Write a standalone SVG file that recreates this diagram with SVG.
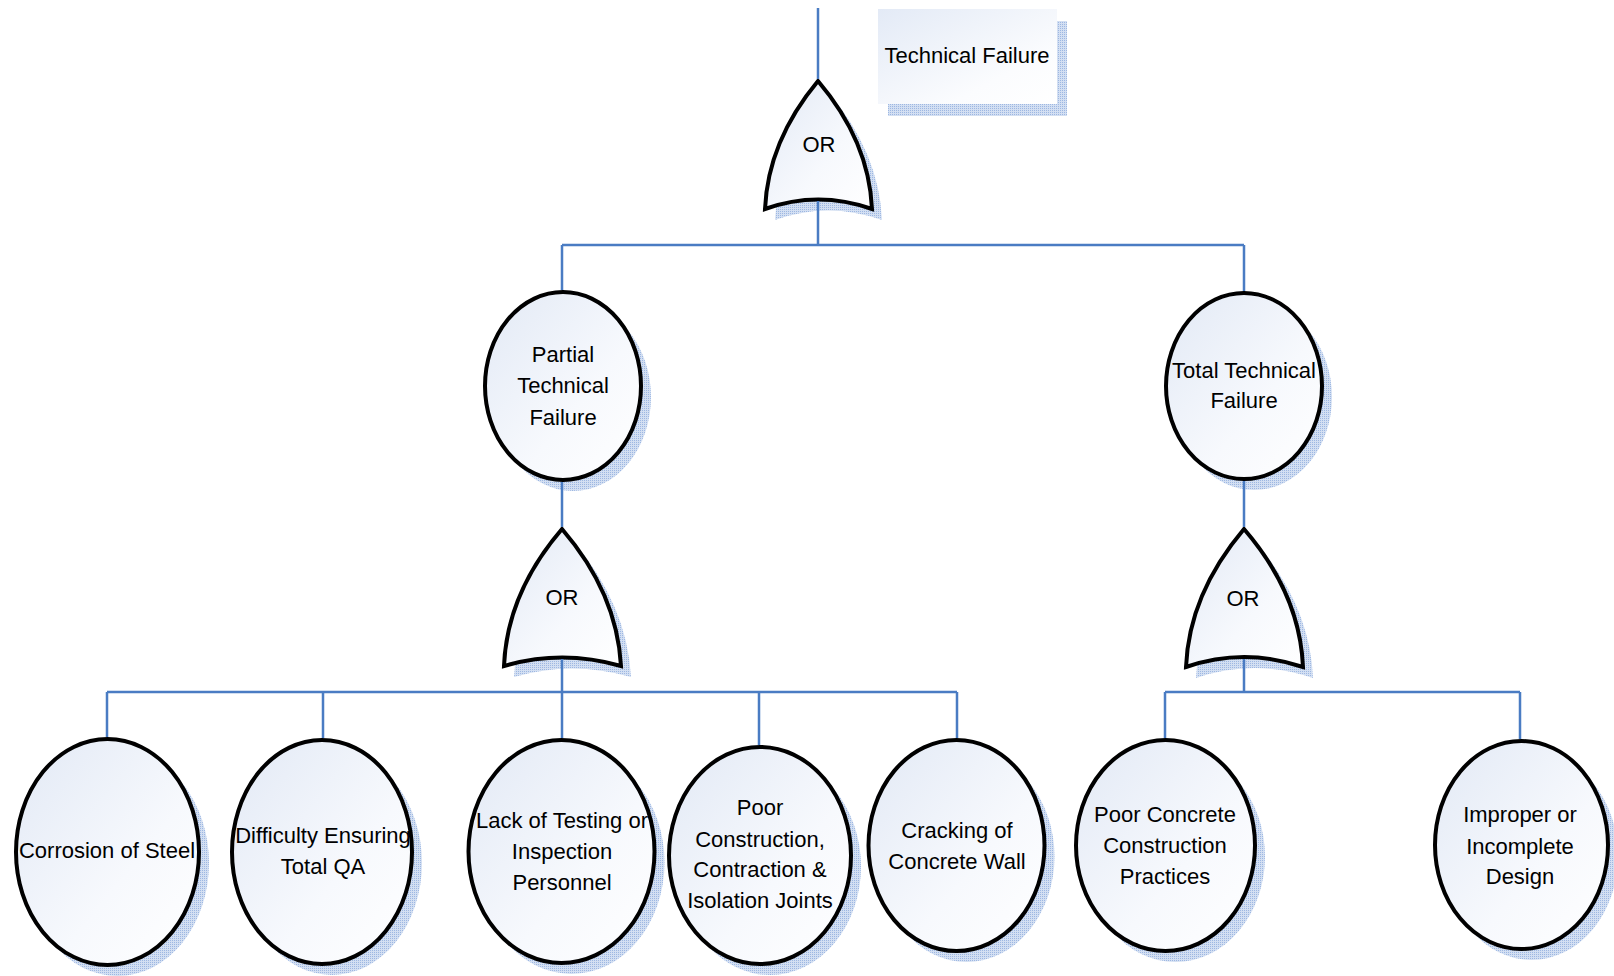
<svg xmlns="http://www.w3.org/2000/svg" width="1614" height="976" viewBox="0 0 1614 976">
  <defs>
    <linearGradient id="fillGrad" x1="0" y1="0" x2="1" y2="1">
      <stop offset="0" stop-color="#e2e9f5"/>
      <stop offset="0.6" stop-color="#f7f9fd"/>
      <stop offset="1" stop-color="#ffffff"/>
    </linearGradient>
    <linearGradient id="boxGrad" x1="0" y1="0" x2="1" y2="1">
      <stop offset="0" stop-color="#e3eaf6"/>
      <stop offset="0.7" stop-color="#fbfcfe"/>
      <stop offset="1" stop-color="#ffffff"/>
    </linearGradient>
    <pattern id="shadeDots" width="2" height="2" patternUnits="userSpaceOnUse">
      <rect width="2" height="2" fill="#d3dff2"/>
      <rect width="1" height="1" fill="#9db7e2"/>
    </pattern>
  </defs>
  <style>
    .shape { fill: url(#fillGrad); stroke: #000000; stroke-width: 4; }
    .shadow { fill: url(#shadeDots); stroke: none; }
    .wire { fill: none; stroke: #4a7cc3; stroke-width: 2.5; }
    text { font-family: "Liberation Sans", Arial, sans-serif; font-size: 22px; fill: #000000; text-anchor: middle; }
  </style>

  <rect width="1614" height="976" fill="#ffffff"/>

  <!-- top event label -->
  <g id="top-event">
    <rect class="shadow" x="888" y="21" width="179" height="95"/>
    <rect x="878" y="9" width="179" height="95" fill="url(#boxGrad)"/>
    <text x="967" y="63">Technical Failure</text>
  </g>

  <!-- OR gates -->
  <g id="gate-top">
    <path class="shadow" transform="translate(10,11)" d="M818,81 Q768,141 765,209 Q818,190 872,209 Q869,141 818,81 Z"/>
    <path class="shape" d="M818,81 Q768,141 765,209 Q818,190 872,209 Q869,141 818,81 Z"/>
    <text x="819" y="152">OR</text>
  </g>
  <g id="gate-partial">
    <path class="shadow" transform="translate(10,11)" d="M562,529 Q507,593 504,666 Q562,649 621,666 Q617,593 562,529 Z"/>
    <path class="shape" d="M562,529 Q507,593 504,666 Q562,649 621,666 Q617,593 562,529 Z"/>
    <text x="562" y="605">OR</text>
  </g>
  <g id="gate-total">
    <path class="shadow" transform="translate(10,11)" d="M1244,529 Q1189,594 1186,667 Q1244,647 1303,667 Q1300,594 1244,529 Z"/>
    <path class="shape" d="M1244,529 Q1189,594 1186,667 Q1244,647 1303,667 Q1300,594 1244,529 Z"/>
    <text x="1243" y="606">OR</text>
  </g>

  <!-- intermediate events -->
  <g id="partial-technical-failure">
    <ellipse class="shadow" cx="573" cy="397" rx="78" ry="94"/>
    <ellipse class="shape" cx="563" cy="386" rx="78" ry="94"/>
    <text x="563" y="362">Partial</text>
    <text x="563" y="393">Technical</text>
    <text x="563" y="425">Failure</text>
  </g>
  <g id="total-technical-failure">
    <ellipse class="shadow" cx="1254" cy="397" rx="78" ry="93"/>
    <ellipse class="shape" cx="1244" cy="386" rx="78" ry="93"/>
    <text x="1244" y="378">Total Technical</text>
    <text x="1244" y="408">Failure</text>
  </g>

  <!-- basic events -->
  <g id="corrosion-of-steel">
    <ellipse class="shadow" cx="117.5" cy="863" rx="91.5" ry="113"/>
    <ellipse class="shape" cx="107.5" cy="852" rx="91.5" ry="113"/>
    <text x="107" y="858">Corrosion of Steel</text>
  </g>
  <g id="difficulty-ensuring-qa">
    <ellipse class="shadow" cx="332" cy="863" rx="90" ry="112"/>
    <ellipse class="shape" cx="322" cy="852" rx="90" ry="112"/>
    <text x="323" y="843">Difficulty Ensuring</text>
    <text x="323" y="874">Total QA</text>
  </g>
  <g id="lack-of-testing">
    <ellipse class="shadow" cx="571.5" cy="862.5" rx="93" ry="111.5"/>
    <ellipse class="shape" cx="561.5" cy="851.5" rx="93" ry="111.5"/>
    <text x="562" y="828">Lack of Testing or</text>
    <text x="562" y="859">Inspection</text>
    <text x="562" y="890">Personnel</text>
  </g>
  <g id="poor-construction-joints">
    <ellipse class="shadow" cx="770" cy="866.5" rx="91" ry="108.5"/>
    <ellipse class="shape" cx="760" cy="855.5" rx="91" ry="108.5"/>
    <text x="760" y="815">Poor</text>
    <text x="760" y="847">Construction,</text>
    <text x="760" y="877">Contraction &amp;</text>
    <text x="760" y="908">Isolation Joints</text>
  </g>
  <g id="cracking-of-wall">
    <ellipse class="shadow" cx="966.5" cy="856.5" rx="88" ry="105.5"/>
    <ellipse class="shape" cx="956.5" cy="845.5" rx="88" ry="105.5"/>
    <text x="957" y="838">Cracking of</text>
    <text x="957" y="869">Concrete Wall</text>
  </g>
  <g id="poor-concrete-practices">
    <ellipse class="shadow" cx="1175.5" cy="856.5" rx="89.5" ry="105.5"/>
    <ellipse class="shape" cx="1165.5" cy="845.5" rx="89.5" ry="105.5"/>
    <text x="1165" y="822">Poor Concrete</text>
    <text x="1165" y="853">Construction</text>
    <text x="1165" y="884">Practices</text>
  </g>
  <g id="improper-design">
    <ellipse class="shadow" cx="1531.5" cy="856" rx="86.5" ry="104"/>
    <ellipse class="shape" cx="1521.5" cy="845" rx="86.5" ry="104"/>
    <text x="1520" y="822">Improper or</text>
    <text x="1520" y="854">Incomplete</text>
    <text x="1520" y="884">Design</text>
  </g>

  <!-- connectors -->
  <g id="connectors" class="wire">
    <path d="M818,8 V79"/>
    <path d="M818,201 V245 M562,245 H1244 M562,245 V290 M1244,245 V291"/>
    <path d="M562,482 V527 M1244,481 V527"/>
    <path d="M562,659 V692 M107,692 H957"/>
    <path d="M107,692 V737 M323,692 V738 M562,692 V738 M759,692 V745 M957,692 V738"/>
    <path d="M1244,659 V692 M1165,692 H1520 M1165,692 V738 M1520,692 V739"/>
  </g>
</svg>
